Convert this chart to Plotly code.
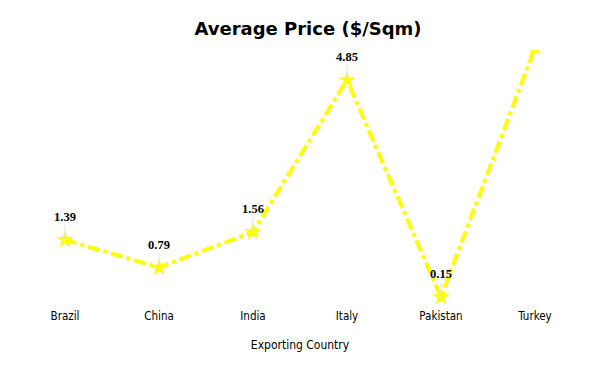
import plotly.graph_objects as go

countries = ["Brazil", "China", "India", "Italy", "Pakistan", "Turkey"]
avg_price = [1.39, 0.79, 1.56, 4.85, 0.15, 5.55]
y_max = 5.5

fig = go.Figure()
fig.add_trace(go.Scatter(
    x=countries, y=avg_price, mode="lines+markers",
    line=dict(color="#ffff00", width=4, dash="dashdot"),
    marker=dict(symbol="star", size=13, color="#ffff00"),
    showlegend=False, hoverinfo="x+y",
))

for c, v in zip(countries, avg_price):
    if v <= y_max:
        fig.add_annotation(
            x=c, y=v, text=f"<b>{v:.2f}</b>", showarrow=True,
            arrowhead=0, arrowwidth=1, arrowcolor="#e0e0e0",
            ax=0, ay=-23,
            font=dict(family="Liberation Serif, Times New Roman, serif", size=12.5, color="black"),
        )

fig.update_layout(
    width=600, height=371,
    margin=dict(l=10, r=26, t=42, b=75),
    paper_bgcolor="white", plot_bgcolor="white",
    title=dict(text="<b>Average Price ($/Sqm)</b>", x=0.5, xanchor="center", y=0.943, yanchor="middle",
               font=dict(family="DejaVu Sans", size=18, color="black")),
    font=dict(family="DejaVu Sans Condensed, DejaVu Sans", size=12, color="black"),
    xaxis=dict(range=[-0.5, 5.5], showgrid=False, zeroline=False, showline=False,
               ticks="outside", ticklen=1, tickcolor="white",
               title=dict(text="Exporting Country", font=dict(size=12), standoff=18),
               tickfont=dict(size=11.5)),
    yaxis=dict(range=[0, y_max], visible=False, showgrid=False, zeroline=False),
)

fig.write_html("out.html")
